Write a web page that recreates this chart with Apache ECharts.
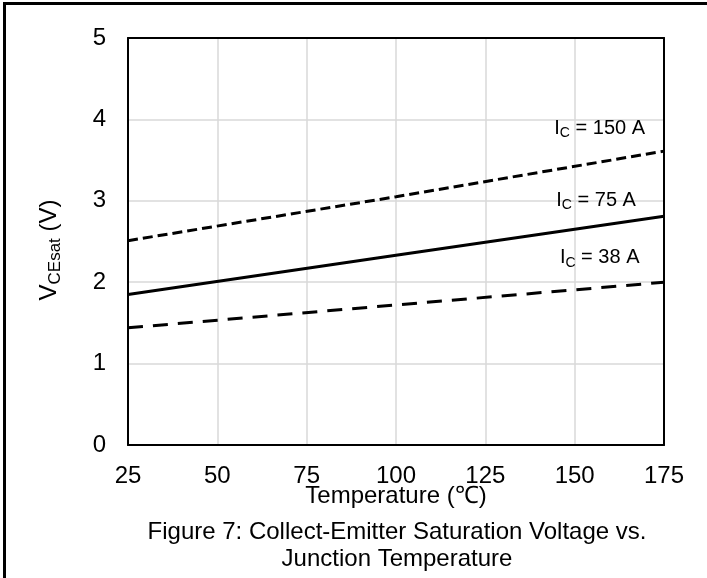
<!DOCTYPE html>
<html>
<head>
<meta charset="utf-8">
<script src="https://cdn.jsdelivr.net/npm/echarts@6/dist/echarts.min.js"></script>
<style>
  html, body { margin: 0; padding: 0; background: #fff; }
  #chart { width: 707px; height: 578px; }
</style>
</head>
<body>
<div id="chart"></div>
<script>
// values (temperature in degC, VCEsat in V)
var temps = [25, 100, 175];
var ic150 = [2.51, 3.05, 3.61];
var ic75 = [1.85, 2.33, 2.81];
var ic38 = [1.44, 1.72, 2.00];
var xTicks = [25, 50, 75, 100, 125, 150, 175];
var yTicks = [0, 1, 2, 3, 4, 5];
var curveNames = ['150 A', '75 A', '38 A'];
var labelAt = [[157, 3.89], [156, 3.01], [157, 2.30]];

var font = 'Arial, "Liberation Sans", sans-serif';

function pairs(ys) {
  return temps.map(function (t, i) { return [t, ys[i]]; });
}

function line(name, ys, dash) {
  return {
    name: name,
    type: 'line',
    data: pairs(ys),
    symbol: 'none',
    silent: true,
    lineStyle: { color: '#000', width: 3, type: dash }
  };
}

// plain black frame axes for the top and right side of the plot box
function frameAxis(pos, ticks) {
  return {
    type: 'value', position: pos,
    min: ticks[0], max: ticks[ticks.length - 1],
    axisLine: { show: true, onZero: false, lineStyle: { color: '#000', width: 2 } },
    axisTick: { show: false },
    axisLabel: { show: false },
    splitLine: { show: false }
  };
}

var chart = echarts.init(document.getElementById('chart'));

var option = {
  backgroundColor: '#fff',
  animation: false,
  textStyle: { fontFamily: font },
  grid: { left: 128, right: 43, top: 38, bottom: 133 },
  xAxis: [{
    type: 'value',
    min: xTicks[0], max: xTicks[xTicks.length - 1], interval: 25,
    name: 'Temperature (℃)',
    nameLocation: 'middle',
    nameGap: 39,
    nameMoveOverlap: false,
    nameTextStyle: { color: '#000', fontSize: 24, fontFamily: font },
    axisLine: { onZero: false, lineStyle: { color: '#000', width: 2 } },
    axisTick: { show: false },
    axisLabel: { color: '#000', fontSize: 24, margin: 19, fontFamily: font },
    splitLine: { lineStyle: { color: '#d9d9d9', width: 1.5 } }
  }, frameAxis('top', xTicks)],
  yAxis: [{
    type: 'value',
    min: yTicks[0], max: yTicks[yTicks.length - 1], interval: 1,
    axisLine: { show: true, onZero: false, lineStyle: { color: '#000', width: 2 } },
    axisTick: { show: false },
    axisLabel: { color: '#000', fontSize: 24, margin: 22, fontFamily: font },
    splitLine: { lineStyle: { color: '#d9d9d9', width: 1.5 } }
  }, frameAxis('right', yTicks)],
  series: [
    line('150 A', ic150, [10, 5]),
    line('75 A', ic75, 'solid'),
    line('38 A', ic38, [15, 10])
  ]
};
chart.setOption(option);

function richSet(big, small, drop) {
  return {
    n: { fontSize: big, fontFamily: font, fill: '#000' },
    s: { fontSize: small, fontFamily: font, fill: '#000', padding: [drop, 0, 0, 0] }
  };
}

var graphics = [
  {
    type: 'rect', silent: true,
    shape: { x: 4.5, y: 3.5, width: 740, height: 620 },
    style: { fill: 'none', stroke: '#000', lineWidth: 3 }
  },
  {
    type: 'text', silent: true,
    x: 49, y: 250, rotation: Math.PI / 2,
    style: {
      text: '{n|V}{s|CEsat}{n| (V)}',
      rich: richSet(24, 17, 12), align: 'center', verticalAlign: 'middle'
    }
  },
  {
    type: 'text', silent: true,
    x: 397, y: 546,
    style: {
      text: 'Figure 7: Collect-Emitter Saturation Voltage vs.\nJunction Temperature',
      font: '24px ' + font, fill: '#000',
      align: 'center', verticalAlign: 'middle', lineHeight: 27
    }
  }
];

curveNames.forEach(function (n, i) {
  var p = chart.convertToPixel({ xAxisIndex: 0, yAxisIndex: 0 }, labelAt[i]);
  graphics.push({
    type: 'text', silent: true,
    x: p[0], y: p[1],
    style: {
      text: '{n|I}{s|C}{n| = ' + n + '}',
      rich: richSet(20, 14, 10), align: 'center', verticalAlign: 'middle'
    }
  });
});

chart.setOption({ graphic: graphics });
</script>
</body>
</html>
